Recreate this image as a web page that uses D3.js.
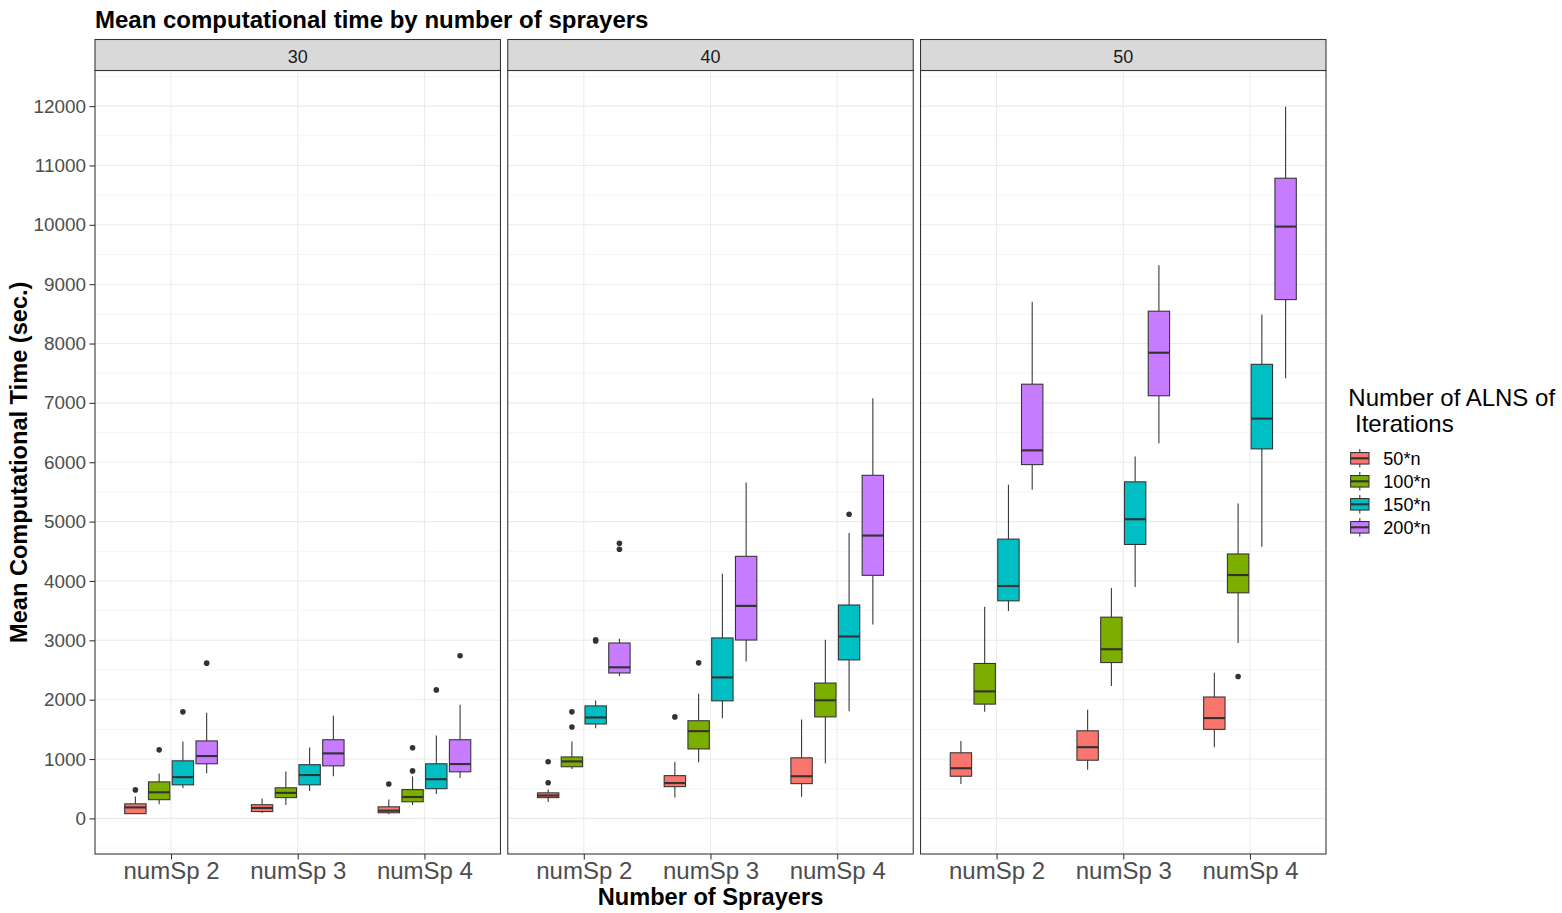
<!DOCTYPE html>
<html>
<head>
<meta charset="utf-8">
<script src="https://cdn.jsdelivr.net/npm/d3@7"></script>
<style>
    body { margin: 0; background: #fff; }
    text { font-family: "Liberation Sans", Arial, sans-serif; }
</style>
</head>
<body>
<div id="chart"></div>
<script>

// facets, categories and fill groups
let panels = ["30", "40", "50"];
let sprayers = ["numSp 2", "numSp 3", "numSp 4"];
let iterations = ["50*n", "100*n", "150*n", "200*n"];
let fills = ["#F8766D", "#7CAE00", "#00BFC4", "#C77CFF"];

// box stats per panel: [sprayer, iteration, low whisker, q1, median, q3, high whisker]
let box30 = [
    ["numSp 2", "50*n", 75, 80, 185, 245, 370],
    ["numSp 2", "100*n", 240, 315, 440, 615, 755],
    ["numSp 2", "150*n", 510, 565, 695, 970, 1295],
    ["numSp 2", "200*n", 760, 920, 1050, 1305, 1780],
    ["numSp 3", "50*n", 90, 115, 175, 230, 335],
    ["numSp 3", "100*n", 225, 350, 430, 515, 790],
    ["numSp 3", "150*n", 460, 565, 730, 905, 1195],
    ["numSp 3", "200*n", 710, 885, 1095, 1325, 1730],
    ["numSp 4", "50*n", 70, 95, 130, 195, 320],
    ["numSp 4", "100*n", 225, 280, 360, 485, 705],
    ["numSp 4", "150*n", 410, 500, 660, 920, 1395],
    ["numSp 4", "200*n", 680, 785, 915, 1325, 1915]
];
let box40 = [
    ["numSp 2", "50*n", 275, 350, 385, 430, 485],
    ["numSp 2", "100*n", 830, 870, 960, 1035, 1295],
    ["numSp 2", "150*n", 1520, 1590, 1700, 1895, 1985],
    ["numSp 2", "200*n", 2400, 2450, 2545, 2955, 3025],
    ["numSp 3", "50*n", 350, 535, 595, 720, 955],
    ["numSp 3", "100*n", 945, 1170, 1470, 1645, 2100],
    ["numSp 3", "150*n", 1685, 1980, 2375, 3040, 4120],
    ["numSp 3", "200*n", 2645, 3005, 3580, 4415, 5660],
    ["numSp 4", "50*n", 365, 585, 710, 1020, 1665],
    ["numSp 4", "100*n", 930, 1710, 1990, 2280, 3010],
    ["numSp 4", "150*n", 1805, 2670, 3065, 3595, 4810],
    ["numSp 4", "200*n", 3265, 4095, 4765, 5780, 7080]
];
let box50 = [
    ["numSp 2", "50*n", 580, 710, 845, 1105, 1305],
    ["numSp 2", "100*n", 1795, 1925, 2140, 2610, 3565],
    ["numSp 2", "150*n", 3495, 3665, 3915, 4705, 5620],
    ["numSp 2", "200*n", 5535, 5960, 6200, 7315, 8705],
    ["numSp 3", "50*n", 820, 980, 1200, 1475, 1830],
    ["numSp 3", "100*n", 2230, 2625, 2850, 3390, 3880],
    ["numSp 3", "150*n", 3900, 4615, 5040, 5670, 6095],
    ["numSp 3", "200*n", 6320, 7120, 7845, 8545, 9320],
    ["numSp 4", "50*n", 1200, 1500, 1690, 2045, 2455],
    ["numSp 4", "100*n", 2955, 3800, 4100, 4455, 5305],
    ["numSp 4", "150*n", 4575, 6225, 6735, 7650, 8490],
    ["numSp 4", "200*n", 7415, 8740, 9970, 10785, 11990]
];

// outliers per panel: [sprayer, iteration, value]
let out30 = [
    ["numSp 2", "50*n", 480], ["numSp 2", "100*n", 1155], ["numSp 2", "150*n", 1795], ["numSp 2", "200*n", 2615],
    ["numSp 4", "50*n", 580], ["numSp 4", "100*n", 800], ["numSp 4", "100*n", 1190],
    ["numSp 4", "150*n", 2165], ["numSp 4", "200*n", 2740]
];
let out40 = [
    ["numSp 2", "50*n", 600], ["numSp 2", "50*n", 955], ["numSp 2", "100*n", 1540], ["numSp 2", "100*n", 1795],
    ["numSp 2", "150*n", 2990], ["numSp 2", "150*n", 3010], ["numSp 2", "200*n", 4535], ["numSp 2", "200*n", 4635],
    ["numSp 3", "50*n", 1710], ["numSp 3", "100*n", 2620],
    ["numSp 4", "150*n", 5125]
];
let out50 = [
    ["numSp 4", "100*n", 2390]
];

let yDomain = [-600, 12600];
let yMajor = d3.range(0, 12001, 1000);
let yMinor = d3.range(-500, 12501, 1000);

let boxes = [box30, box40, box50];
let outliers = [out30, out40, out50];

// layout
let W = 1562, H = 913;
let plotLeft = 95, plotRight = 1326, stripTop = 39.5, plotTop = 70.5, plotBottom = 854;
let gap = 7.3;
let panelW = (plotRight - plotLeft - 2 * gap) / 3;
let ink = "#333333";

let svg = d3.select("#chart").append("svg")
    .attr("width", W)
    .attr("height", H);

svg.append("rect").attr("width", W).attr("height", H).attr("fill", "#fff");

let y = d3.scaleLinear().domain(yDomain).range([plotBottom, plotTop]);
let color = d3.scaleOrdinal().domain(iterations).range(fills);

panels.forEach(function(p, i){
    let gx = plotLeft + i * (panelW + gap);
    let g = svg.append("g").attr("transform", `translate(${gx},0)`);

    let x = d3.scalePoint().domain(sprayers).range([0, panelW]).padding(0.6);
    let xi = d3.scaleBand().domain(iterations)
        .range([-0.375 * x.step(), 0.375 * x.step()]);
    let bw = xi.bandwidth() * 0.9;

    // grid
    g.selectAll(".minor").data(yMinor).enter().append("line")
        .attr("x1", 0).attr("x2", panelW)
        .attr("y1", d => y(d)).attr("y2", d => y(d))
        .attr("stroke", "#ebebeb").attr("stroke-width", 0.55);
    g.selectAll(".major").data(yMajor).enter().append("line")
        .attr("x1", 0).attr("x2", panelW)
        .attr("y1", d => y(d)).attr("y2", d => y(d))
        .attr("stroke", "#ebebeb").attr("stroke-width", 1.07);
    g.selectAll(".vmajor").data(sprayers).enter().append("line")
        .attr("x1", d => x(d)).attr("x2", d => x(d))
        .attr("y1", plotTop).attr("y2", plotBottom)
        .attr("stroke", "#ebebeb").attr("stroke-width", 1.07);

    let cx = d => x(d[0]) + xi(d[1]) + xi.bandwidth() / 2;

    // whiskers
    let bx = g.selectAll(".box").data(boxes[i]).enter().append("g");
    bx.append("line")
        .attr("x1", cx).attr("x2", cx)
        .attr("y1", d => y(d[6])).attr("y2", d => y(d[5]))
        .attr("stroke", ink).attr("stroke-width", 1.07);
    bx.append("line")
        .attr("x1", cx).attr("x2", cx)
        .attr("y1", d => y(d[3])).attr("y2", d => y(d[2]))
        .attr("stroke", ink).attr("stroke-width", 1.07);
    bx.append("rect")
        .attr("x", d => cx(d) - bw / 2)
        .attr("width", bw)
        .attr("y", d => y(d[5]))
        .attr("height", d => y(d[3]) - y(d[5]))
        .attr("fill", d => color(d[1]))
        .attr("stroke", ink).attr("stroke-width", 1.07);
    bx.append("line")
        .attr("x1", d => cx(d) - bw / 2).attr("x2", d => cx(d) + bw / 2)
        .attr("y1", d => y(d[4])).attr("y2", d => y(d[4]))
        .attr("stroke", ink).attr("stroke-width", 2.13);

    g.selectAll(".out").data(outliers[i]).enter().append("circle")
        .attr("cx", cx)
        .attr("cy", d => y(d[2]))
        .attr("r", 2.8)
        .attr("fill", ink);

    // border + strip
    g.append("rect")
        .attr("x", 0).attr("y", plotTop)
        .attr("width", panelW).attr("height", plotBottom - plotTop)
        .attr("fill", "none").attr("stroke", ink).attr("stroke-width", 1.07);
    g.append("rect")
        .attr("x", 0).attr("y", stripTop)
        .attr("width", panelW).attr("height", plotTop - stripTop)
        .attr("fill", "#d9d9d9").attr("stroke", ink).attr("stroke-width", 1.07);
    g.append("text")
        .attr("x", panelW / 2).attr("y", (stripTop + plotTop) / 2)
        .attr("dy", "0.42em")
        .attr("text-anchor", "middle")
        .attr("font-size", "18px")
        .attr("fill", "#1a1a1a")
        .text(p);

    // x axis
    let xAxis = g.append("g")
        .attr("transform", `translate(0,${plotBottom})`)
        .call(d3.axisBottom(x).tickSize(5.5).tickPadding(2.8));
    xAxis.select(".domain").remove();
    xAxis.selectAll("line").attr("stroke", ink).attr("stroke-width", 1.07);
    xAxis.selectAll("text")
        .attr("font-size", "24px")
        .attr("font-family", "Liberation Sans, Arial, sans-serif")
        .attr("fill", "#4d4d4d");

    if (i == 0){
        let yAxis = g.append("g")
            .call(d3.axisLeft(y).tickValues(yMajor).tickFormat(d3.format("d")).tickSize(5.5).tickPadding(3.5));
        yAxis.select(".domain").remove();
        yAxis.selectAll("line").attr("stroke", ink).attr("stroke-width", 1.07);
        yAxis.selectAll("text")
            .attr("font-size", "18.9px")
            .attr("font-family", "Liberation Sans, Arial, sans-serif")
            .attr("fill", "#4d4d4d");
    }
});

// titles
svg.append("text")
    .attr("x", plotLeft).attr("y", 28.3)
    .attr("font-size", "24px").attr("font-weight", "bold")
    .text("Mean computational time by number of sprayers");

svg.append("text")
    .attr("x", (plotLeft + plotRight) / 2).attr("y", 905)
    .attr("text-anchor", "middle")
    .attr("font-size", "23.6px").attr("font-weight", "bold")
    .text("Number of Sprayers");

svg.append("text")
    .attr("transform", `translate(27,${(plotTop + plotBottom) / 2}) rotate(-90)`)
    .attr("text-anchor", "middle")
    .attr("font-size", "23.6px").attr("font-weight", "bold")
    .text("Mean Computational Time (sec.)");

// legend
let legend = svg.append("g").attr("transform", "translate(1348.3,0)");
legend.append("text").attr("x", 0).attr("y", 406)
    .attr("font-size", "24px").style("white-space", "pre")
    .text("Number of ALNS of");
legend.append("text").attr("x", 0).attr("y", 431.5)
    .attr("font-size", "24px").style("white-space", "pre")
    .text(" Iterations");

let key = 23;
let keys = legend.selectAll(".key").data(iterations).enter().append("g")
    .attr("transform", (d, i) => `translate(0,${446.8 + i * key})`);
keys.append("line")
    .attr("x1", key / 2).attr("x2", key / 2)
    .attr("y1", key * 0.1).attr("y2", key * 0.9)
    .attr("stroke", ink).attr("stroke-width", 1.07);
keys.append("rect")
    .attr("x", key * 0.1).attr("width", key * 0.8)
    .attr("y", key * 0.25).attr("height", key * 0.5)
    .attr("fill", d => color(d))
    .attr("stroke", ink).attr("stroke-width", 1.07);
keys.append("line")
    .attr("x1", key * 0.1).attr("x2", key * 0.9)
    .attr("y1", key / 2).attr("y2", key / 2)
    .attr("stroke", ink).attr("stroke-width", 2.13);
keys.append("text")
    .attr("x", 35).attr("y", key / 2)
    .attr("dy", "0.36em")
    .attr("font-size", "18.1px")
    .text(d => d);

</script>
</body>
</html>
